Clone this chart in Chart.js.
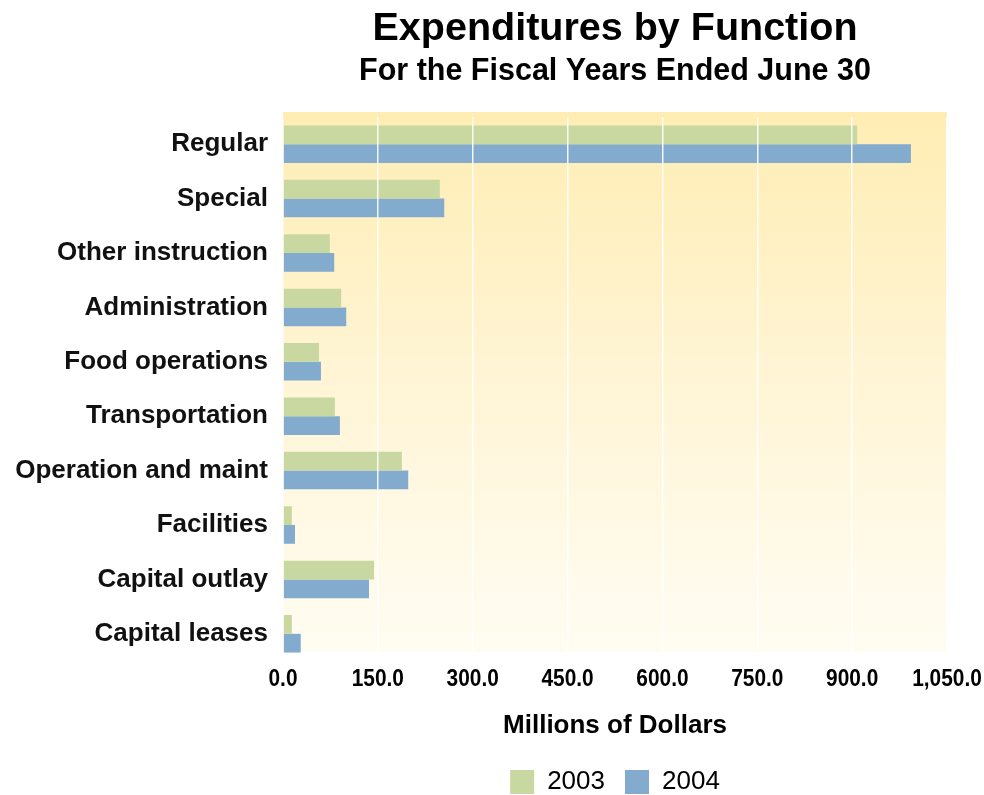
<!DOCTYPE html>
<html>
<head>
<meta charset="utf-8">
<title>Expenditures by Function</title>
<script src="https://cdn.jsdelivr.net/npm/chart.js@4/dist/chart.umd.min.js"></script>
<style>
  html, body { margin: 0; padding: 0; background: #fff; }
  #wrap { width: 984px; height: 795px; }
</style>
</head>
<body>
<div id="wrap"><canvas id="chart"></canvas></div>
<script>
// Chart data
const categories = ["Regular", "Special", "Other instruction", "Administration", "Food operations",
    "Transportation", "Operation and maint", "Facilities", "Capital outlay", "Capital leases"];
const values2003 = [908, 248, 74, 92, 57, 82, 188, 14, 144, 14];
const values2004 = [993, 255, 81, 100, 60, 90, 198, 19, 136, 28];
const seriesLabels = ["2003", "2004"];
const xMin = 0;
const xMax = 1050;
const xStep = 150;

const fmt = (v) => Number(v).toLocaleString("en-US", { minimumFractionDigits: 1, maximumFractionDigits: 1 });

// Plot background: yellow at top fading to cream at bottom
const plotBackground = {
    id: "plotBackground",
    beforeDraw(chart) {
        const { ctx, chartArea: a } = chart;
        const top = a.top - 5;
        const bottom = a.bottom - 9;
        const g = ctx.createLinearGradient(0, top, 0, bottom);
        g.addColorStop(0, "#FFEDB3");
        g.addColorStop(0.5, "#FFF5D6");
        g.addColorStop(1, "#FFFCF2");
        ctx.save();
        ctx.fillStyle = g;
        ctx.fillRect(a.left, top, a.right - a.left, bottom - top);
        ctx.restore();
    }
};

// Narrow bold tick labels for the value axis (squeezed Liberation Sans Bold)
const narrowTicks = {
    id: "narrowTicks",
    afterDraw(chart) {
        const { ctx, scales: { x } } = chart;
        ctx.save();
        ctx.fillStyle = "#000";
        ctx.font = "bold 24px 'Liberation Sans', Arial";
        ctx.textAlign = "center";
        ctx.textBaseline = "middle";
        x.ticks.forEach((t) => {
            const px = x.getPixelForValue(t.value);
            ctx.save();
            ctx.translate(px, x.top + 18);
            ctx.scale(0.87, 1);
            ctx.fillText(fmt(t.value), 0, 0);
            ctx.restore();
        });
        ctx.restore();
    }
};

const ctx = document.getElementById("chart").getContext("2d");
new Chart(ctx, {
    type: "bar",
    data: {
        labels: categories,
        datasets: [
            {
                label: seriesLabels[0],
                data: values2003,
                backgroundColor: "#C8D8A0",
                borderWidth: 0,
            },
            {
                label: seriesLabels[1],
                data: values2004,
                backgroundColor: "#82ABCE",
                borderWidth: 0,
            },
        ],
    },
    options: {
        indexAxis: "y",
        responsive: true,
        maintainAspectRatio: false,
        animation: false,
        layout: { padding: { left: 0, right: 37, top: 0, bottom: -10 } },
        datasets: { bar: { categoryPercentage: 0.69, barPercentage: 1.0 } },
        scales: {
            x: {
                min: xMin,
                max: xMax,
                afterFit: (scale) => {
                    scale.height = 88;
                    scale.paddingLeft = 0;
                    scale.paddingRight = 0;
                },
                ticks: {
                    stepSize: xStep,
                    color: "rgba(0,0,0,0)",
                    padding: 12,
                    maxRotation: 0,
                    autoSkip: false,
                    font: { family: "'Liberation Sans', Arial", size: 20, weight: "bold" },
                    callback: fmt,
                },
                grid: { color: "rgba(255,255,255,0.9)", lineWidth: 1.5, drawTicks: false, z: 1 },
                border: { display: false },
                title: {
                    display: true,
                    text: "Millions of Dollars",
                    color: "#000",
                    padding: { top: 10, bottom: 8 },
                    font: { family: "'Liberation Sans', Arial", size: 26, weight: "bold" },
                },
            },
            y: {
                afterFit: (scale) => { scale.width = 283; },
                ticks: {
                    color: "#111",
                    padding: 15,
                    font: { family: "'Liberation Sans', Arial", size: 26, weight: "bold" },
                },
                grid: { display: false, drawTicks: false },
                border: { display: false },
            },
        },
        plugins: {
            title: {
                display: true,
                fullSize: false,
                text: "Expenditures by Function",
                color: "#000",
                padding: { top: 5, bottom: 1 },
                font: { family: "'Liberation Sans', Arial", size: 39.5, weight: "bold" },
            },
            subtitle: {
                display: true,
                fullSize: false,
                text: "For the Fiscal Years Ended June 30",
                color: "#000",
                padding: { top: 0, bottom: 27 },
                font: { family: "'Liberation Sans', Arial", size: 30.5, weight: "bold" },
            },
            legend: {
                position: "bottom",
                fullSize: false,
                labels: {
                    color: "#000",
                    boxWidth: 24,
                    boxHeight: 24,
                    padding: 20,
                    font: { family: "'Liberation Sans', Arial", size: 26 },
                },
            },
            tooltip: { enabled: false },
        },
    },
    plugins: [plotBackground, narrowTicks],
});
</script>
</body>
</html>
